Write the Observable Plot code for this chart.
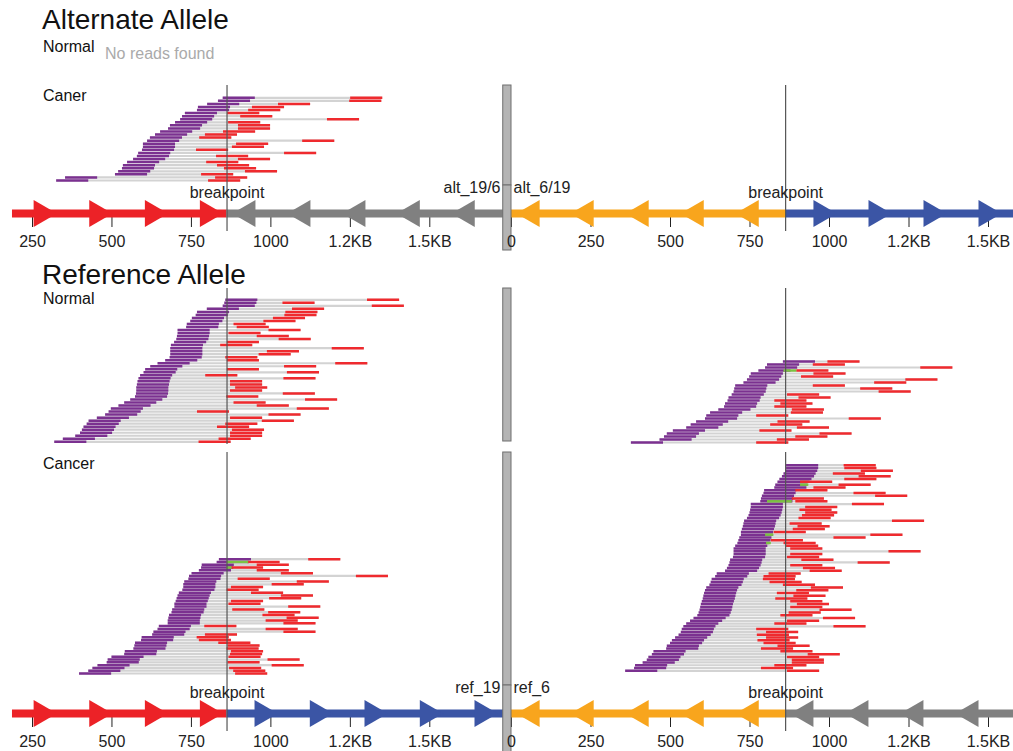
<!DOCTYPE html>
<html><head><meta charset="utf-8">
<script src="https://cdn.jsdelivr.net/npm/d3@7"></script>
<script src="https://cdn.jsdelivr.net/npm/@observablehq/plot@0.6"></script>
<style>
body{margin:0;background:#fff;font-family:"Liberation Sans",Arial,Helvetica,sans-serif;}
#root{position:relative;width:1013px;height:751px;overflow:hidden;background:#fff;}
.lbl{position:absolute;white-space:nowrap;line-height:1;color:#111;}
.pl{position:absolute;}
.pl svg{overflow:visible;background:transparent;display:block;}
</style></head><body><div id="root"></div>
<script>
// ---------------- data ----------------
const READ_LEN = 101;
const BREAKPOINT = 862;

// Alternate allele, cancer sample, left (chr19 side) : start of first read (purple) and mate (red)
const altCanerLeftPurple = [850,835,801,772,769,731,722,716,700,684,678,653,637,621,612,599,599,596,584,580,568,549,536,533,521,511,354,326];
const altCanerLeftRed    = [1251,1248,1024,942,930,864,905,1178,867,898,898,851,794,776,1100,892,879,766,1043,829,898,798,832,854,920,782,826,804];

// Reference allele, normal sample
const refNormalLeftPurple = [858,855,850,800,769,765,753,748,737,735,708,708,706,704,697,687,685,685,685,683,669,645,622,606,601,590,585,582,580,578,578,577,574,559,540,522,498,491,480,454,428,422,412,407,401,386,347,320];
const refNormalLeftRed    = [1304,1038,1319,1068,1047,1044,1008,978,884,894,994,868,957,1026,863,842,1193,989,963,858,863,1204,1043,863,1052,795,1041,873,873,889,873,1039,861,1109,884,957,1083,769,994,873,973,858,832,879,873,873,837,774];
const refNormalRightPurple = [855,805,799,778,754,749,742,731,705,702,700,694,684,681,673,670,652,626,614,610,582,565,551,509,490,481,467,377];
const refNormalRightRed    = [995,949,1287,897,951,912,1240,1142,949,1098,1156,868,904,828,847,828,883,880,771,1062,838,815,899,781,970,894,836,771];
const refNormalRightGreen  = [{row:3, start:857, end:897}];

// Reference allele, cancer sample
const refCancerLeftPurple = [838,831,784,782,775,752,744,742,729,726,726,723,712,708,705,702,698,698,691,689,681,679,677,677,649,645,632,628,595,593,574,572,569,542,540,500,488,485,456,440,427,398];
const refCancerLeftRed    = [1119,928,957,876,957,1033,1269,897,1083,1004,876,862,939,1033,996,876,868,1056,880,993,975,1051,985,1041,792,985,1041,794,768,775,836,865,862,876,873,868,991,865,1004,870,883,889];
const refCancerLeftGreen  = [{row:1, start:862, end:930}, {row:3, start:862, end:878}];
const refCancerRightPurple = [865,865,862,857,852,844,838,831,828,796,794,789,786,784,754,754,752,750,747,742,733,731,729,726,723,723,718,715,712,705,700,700,700,698,689,687,684,679,673,647,642,631,628,624,614,610,607,605,603,600,597,595,593,590,586,574,563,551,542,537,534,527,516,506,500,490,488,448,443,432,427,414,390,387,359];
const refCancerRightRed    = [1046,1048,1100,1012,1093,1048,909,1030,951,894,1077,1145,883,894,1072,925,907,925,915,904,1198,876,901,886,826,1130,1014,817,857,865,878,1187,878,868,913,1090,878,918,939,810,794,792,813,855,943,897,836,888,831,878,899,878,970,873,847,981,868,828,1014,771,802,773,802,775,794,838,786,847,933,868,883,883,828,786,868];
const refCancerRightGreen  = [{row:7, start:909, end:935}, {row:13, start:805, end:883}, {row:25, start:799, end:825}, {row:28, start:802, end:817}];

// Sequence tracks (parts of chr19 / chr6 either side of the breakpoint)
const PARTS = ["chr19 upstream", "chr19 downstream", "chr6 upstream", "chr6 downstream"];
const altLeftTrack  = [{part:"chr19 upstream", start:187, end:862}, {part:"chr6 downstream", start:862, end:1745}];
const altRightTrack = [{part:"chr6 upstream", start:0, end:862}, {part:"chr19 downstream", start:862, end:1580}];
const refLeftTrack  = [{part:"chr19 upstream", start:187, end:862}, {part:"chr19 downstream", start:862, end:1745}];
const refRightTrack = [{part:"chr6 upstream", start:0, end:862}, {part:"chr6 downstream", start:862, end:1580}];

// strand arrow positions
const arrows19Up      = [278, 453, 628, 801];
const arrows6DownAlt  = [927, 1100, 1273, 1444, 1617];
const arrows6Up       = [64, 234, 407, 580, 753];
const arrows19DownAlt = [974, 1147, 1320, 1493];
const arrows19DownRef = [973, 1147, 1319, 1493, 1665];
const arrows6DownRef  = [925, 1098, 1271, 1444];

// axis ticks
const leftTicks = [250, 500, 750, 1000, 1250, 1500];
const leftTickLabels = ["250", "500", "750", "1000", "1.2KB", "1.5KB"];
const rightTicks = [0, 250, 500, 750, 1000, 1250, 1500];
const rightTickLabels = ["0", "250", "500", "750", "1000", "1.2KB", "1.5KB"];

const SEPARATOR = [[-26, 0]];

// ---------------- styles / layout ----------------
const C = {purple:"#7b3190", red:"#ef2a2e", gray:"#d3d3d3", green:"#7cc242", bp:"#555", sepFill:"#b4b4b4", sepStroke:"#6f6f6f"};
const PART_COLORS = ["#ec2227", "#3b55a5", "#f8a51d", "#808080"];
const FONT = "'Liberation Sans', Arial, Helvetica, sans-serif";
const LEFT = {left:0, width:506, domain:[149.3, 1741.3]};
const RIGHT = {left:500, width:513, domain:[-34.6, 1578.6]};

const root = document.getElementById("root");
function place(node, left, top) {
  const d = document.createElement("div");
  d.className = "pl"; d.style.left = left + "px"; d.style.top = top + "px";
  d.appendChild(node); root.appendChild(d);
}
function label(text, left, top, size, color) {
  const d = document.createElement("div");
  d.className = "lbl"; d.textContent = text;
  d.style.left = left + "px"; d.style.top = top + "px"; d.style.fontSize = size + "px";
  if (color) d.style.color = color;
  root.appendChild(d);
}
const baseStyle = {background:"transparent", overflow:"visible", fontFamily:FONT, fontSize:"16px", color:"#222"};

function readsPlot(side, height, purple, red, greens, rowTop, rowBottom, sepInsetBottom) {
  const rows = purple.map((p, i) => ({row:i, p, r:red[i]}));
  const n = rows.length;
  const marks = [];
  if (n) {
    marks.push(Plot.ruleY(rows, {y:"row", x1:d => Math.min(d.p, d.r), x2:d => Math.max(d.p, d.r) + READ_LEN, stroke:C.gray, strokeWidth:2.2}));
    marks.push(Plot.ruleY(rows, {y:"row", x1:"p", x2:d => d.p + READ_LEN, stroke:C.purple, strokeWidth:2.5}));
    marks.push(Plot.ruleY(rows, {y:"row", x1:"r", x2:d => d.r + READ_LEN, stroke:C.red, strokeWidth:2.5}));
    if (greens) marks.push(Plot.ruleY(greens, {y:"row", x1:"start", x2:"end", stroke:C.green, strokeWidth:2.5}));
  }
  marks.push(Plot.ruleX([BREAKPOINT], {stroke:C.bp, strokeWidth:1.2}));
  if (side === RIGHT) marks.push(Plot.rect(SEPARATOR, {x1:d => d[0], x2:d => d[1], fill:C.sepFill, stroke:C.sepStroke, insetBottom:sepInsetBottom || 0}));
  return Plot.plot({
    width:side.width, height, margin:0,
    x:{domain:side.domain, axis:null},
    y:{domain:[0, Math.max(1, n - 1)], range:[rowTop, rowBottom], axis:null},
    style:baseStyle, marks
  });
}

function trackPlot(side, segs, arrowGroups, ticks, tickLabels, name, sepExtend) {
  const H = 67, T = 28;
  const arrows = arrowGroups.flatMap(g => g.pos.map(pos => ({pos, part:g.part, strand:g.strand})));
  const marks = [
    Plot.ruleY(segs, {y:0, x1:"start", x2:"end", stroke:"part", strokeWidth:8}),
    Plot.dot(arrows, {x:"pos", y:0, fill:"part", symbol:"triangle", r:10, rotate:d => d.strand > 0 ? 90 : -90})
  ];
  if (side === RIGHT) {
    marks.push(Plot.rect(SEPARATOR, {x1:d => d[0], x2:d => d[1], fill:C.sepFill, stroke:C.sepStroke, insetBottom:-sepExtend}));
  }
  marks.push(Plot.ruleX([BREAKPOINT], {stroke:C.bp, strokeWidth:1.2, insetBottom:-18}));
  marks.push(Plot.text(["breakpoint"], {x:BREAKPOINT, y:0, dy:-21, text:d => d, fontSize:16, fill:"#222"}));
  marks.push(Plot.text(ticks, {x:d => d, y:0, dy:28, text:(d, i) => tickLabels[i], fontSize:16, fill:"#222"}));
  if (side === LEFT) {
    marks.push(Plot.text([name], {frameAnchor:"bottom-right", dx:-6, dy:-21, textAnchor:"end", text:d => d, fontSize:16, fill:"#222"}));
  } else {
    marks.push(Plot.text([name], {frameAnchor:"bottom-left", dx:13, dy:-21, textAnchor:"start", text:d => d, fontSize:16, fill:"#222"}));
  }
  return Plot.plot({
    width:side.width, height:H, marginTop:0, marginBottom:H - T, marginLeft:0, marginRight:0,
    x:{domain:side.domain, ticks, tickFormat:() => "", tickSize:14, tickPadding:0, label:null},
    y:{domain:[0, 1], axis:null},
    color:{domain:PARTS, range:PART_COLORS},
    style:baseStyle, marks
  });
}

// ---------------- Alternate allele ----------------
label("Alternate Allele", 42, 6, 28);
label("Normal", 43, 39, 16);
label("No reads found", 105, 45.5, 16, "#aaaaaa");

place(readsPlot(LEFT, 100, altCanerLeftPurple, altCanerLeftRed, null, 12.3, 95), LEFT.left, 85);
place(readsPlot(RIGHT, 100, [], [], null, 0, 1), RIGHT.left, 85);
label("Caner", 43, 87.5, 16);
place(trackPlot(LEFT, altLeftTrack, [{part:"chr19 upstream", strand:1, pos:arrows19Up}, {part:"chr6 downstream", strand:-1, pos:arrows6DownAlt}], leftTicks, leftTickLabels, "alt_19/6"), LEFT.left, 185);
place(trackPlot(RIGHT, altRightTrack, [{part:"chr6 upstream", strand:-1, pos:arrows6Up}, {part:"chr19 downstream", strand:1, pos:arrows19DownAlt}], rightTicks, rightTickLabels, "alt_6/19", 37), RIGHT.left, 185);

// ---------------- Reference allele ----------------
label("Reference Allele", 42, 261, 28);
place(readsPlot(LEFT, 156, refNormalLeftPurple, refNormalLeftRed, null, 11.3, 153.3), LEFT.left, 288);
place(readsPlot(RIGHT, 156, refNormalRightPurple, refNormalRightRed, refNormalRightGreen, 73, 154, 3), RIGHT.left, 288);
label("Normal", 43, 291, 16);

place(readsPlot(LEFT, 233, refCancerLeftPurple, refCancerLeftRed, refCancerLeftGreen, 106.7, 221), LEFT.left, 452);
place(readsPlot(RIGHT, 233, refCancerRightPurple, refCancerRightRed, refCancerRightGreen, 12.7, 218.3), RIGHT.left, 452);
label("Cancer", 43, 455.5, 16);
place(trackPlot(LEFT, refLeftTrack, [{part:"chr19 upstream", strand:1, pos:arrows19Up}, {part:"chr19 downstream", strand:1, pos:arrows19DownRef}], leftTicks, leftTickLabels, "ref_19"), LEFT.left, 685);
place(trackPlot(RIGHT, refRightTrack, [{part:"chr6 upstream", strand:-1, pos:arrows6Up}, {part:"chr6 downstream", strand:-1, pos:arrows6DownRef}], rightTicks, rightTickLabels, "ref_6", 39), RIGHT.left, 685);
</script>
</body></html>
